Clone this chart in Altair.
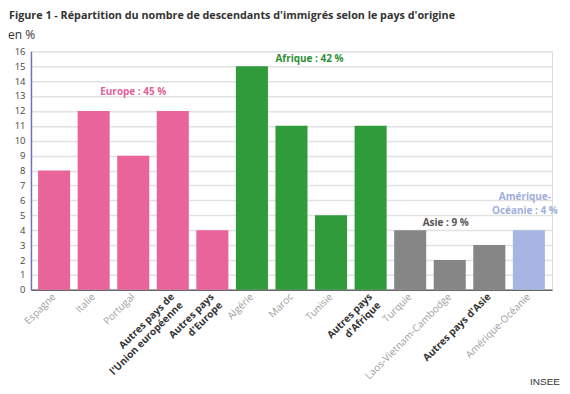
import altair as alt
import pandas as pd

categories = ["Espagne", "Italie", "Portugal", "Autres pays de|l'Union européenne",
              "Autres pays|d'Europe", "Algérie", "Maroc", "Tunisie", "Autres pays|d'Afrique",
              "Turquie", "Laos-Vietnam-Cambodge", "Autres pays d'Asie", "Amérique-Océanie"]
values = [8, 12, 9, 12, 4, 15, 11, 5, 11, 4, 2, 3, 4]
groups = ["Europe"] * 5 + ["Afrique"] * 4 + ["Asie"] * 3 + ["Amérique"]
group_names = ["Europe", "Afrique", "Asie", "Amérique"]
group_colors = ["#E8649B", "#2F9B3A", "#868686", "#A6B5E2"]
y_ticks = list(range(0, 17))

ann_text = ["Europe : 45 %", "Afrique : 42 %", "Asie : 9 %", ["Amérique-", "Océanie : 4 %"]]
ann_cat = ["Portugal", "Maroc", "Laos-Vietnam-Cambodge", "Amérique-Océanie"]
ann_y = [13.3, 15.5, 4.5, 6.2]
ann_color = ["#E0609A", "#2F8F36", "#555555", "#9FAEDD"]

df = pd.DataFrame({"cat": categories, "val": values, "grp": groups})

F = "Open Sans"
xscale = alt.Scale(domain=categories, paddingInner=0.19, paddingOuter=0.18)
yscale = alt.Scale(domain=[0, 16], nice=False)

x_axis = alt.Axis(labelAngle=-45, labelExpr="split(datum.label, '|')",
                  labelFont=F, labelFontSize=10, labelPadding=5,
                  labelAlign="right", labelBaseline="middle",
                  labelLineHeight=12, ticks=False, domainColor="#666666",
                  domainWidth=1.5,
                  labelColor={"condition": {"test": "indexof(datum.value, 'Autres') >= 0", "value": "#333333"}, "value": "#A0A0A0"},
                  labelFontWeight={"condition": {"test": "indexof(datum.value, 'Autres') >= 0", "value": "bold"}, "value": "normal"},
                  labelOverlap=False, labelLimit=200)
y_axis = alt.Axis(values=y_ticks, tickCount=40, format="d", labelFont=F, labelFontSize=9.5,
                  labelColor="#444444", ticks=False, labelPadding=6,
                  labelOverlap=False, labelFlush=False,
                  domainColor="#7070C0", domainWidth=1.5,
                  gridColor="#E2E2E2", gridWidth=1.5)

bars = alt.Chart(df).mark_bar().encode(
    x=alt.X("cat:N", scale=xscale, sort=None, title=None, axis=x_axis),
    y=alt.Y("val:Q", scale=yscale, title=None, axis=y_axis),
    color=alt.Color("grp:N", scale=alt.Scale(domain=group_names, range=group_colors), legend=None),
)

layers = [bars]
dxs = [0, 18, -4, -4]
for t, c, yv, col, dx in zip(ann_text, ann_cat, ann_y, ann_color, dxs):
    d = pd.DataFrame({"cat": [c], "y": [yv], "t": [t]})
    layers.append(alt.Chart(d).mark_text(font=F, fontSize=10, fontWeight="bold", color=col,
                                         dx=dx, lineHeight=14).encode(
        x=alt.X("cat:N", scale=xscale, sort=None, title=None, axis=x_axis),
        y=alt.Y("y:Q", scale=yscale, title=None, axis=y_axis),
        text="t"))

ttl = pd.DataFrame({"t": ["Figure 1 - Répartition du nombre de descendants d'immigrés selon le pays d'origine"]})
layers.append(alt.Chart(ttl).mark_text(font=F, fontSize=10.8, fontWeight="bold", color="#333333",
                                       align="left", baseline="middle").encode(
    x=alt.value(-22), y=alt.value(-35), text="t"))
unit = pd.DataFrame({"t": ["en %"]})
layers.append(alt.Chart(unit).mark_text(font=F, fontSize=12, color="#333333",
                                        align="left", baseline="middle").encode(
    x=alt.value(-23), y=alt.value(-16), text="t"))
src = pd.DataFrame({"t": ["INSEE"]})
layers.append(alt.Chart(src).mark_text(font="Liberation Sans", fontSize=10, color="#333333",
                                       align="right", baseline="middle").encode(
    x=alt.value(530), y=alt.value(331), text="t"))

chart = alt.layer(*layers).properties(
    width=522, height=239,
    autosize=alt.AutoSizeParams(type="none"),
    padding={"left": 23, "top": 43, "right": 10, "bottom": 100},
).configure_view(stroke=None).configure(background="white")

chart.save("out.html", embed_options={"renderer": "svg", "actions": False})
